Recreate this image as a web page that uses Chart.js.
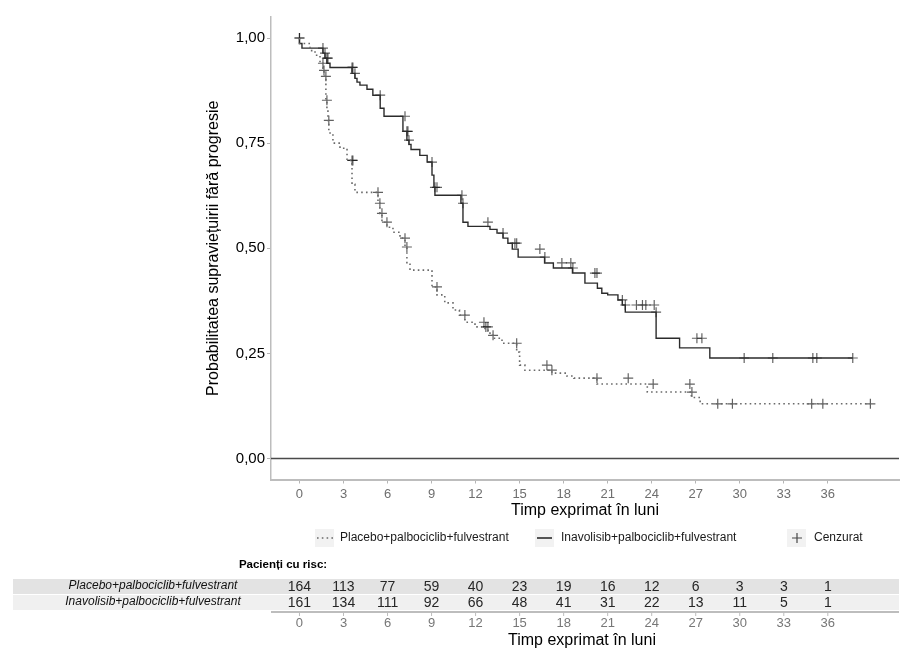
<!DOCTYPE html>
<html>
<head>
<meta charset="utf-8">
<script src="https://cdn.jsdelivr.net/npm/chart.js@4"></script>
<style>
  html, body { margin: 0; padding: 0; background: #ffffff; }
  canvas { display: block; }
</style>
</head>
<body>
<canvas id="km" width="922" height="669"></canvas>
<script>
// ---------------- DATA ----------------
// Inavolisib+palbociclib+fulvestrant : event times (months) and survival after each step
const inavoTime = [0, 0.17, 1.6, 1.74, 1.87, 2.08, 3.58, 3.78, 3.92, 4.12, 4.6, 5.0, 5.5, 5.76, 7.05, 7.32, 7.46, 7.6, 8.2, 8.7, 9.03, 9.16, 9.23, 11.0, 11.14, 11.48, 12.98, 13.46, 13.87, 14.2, 14.5, 14.9, 16.7, 17.3, 18.6, 19.45, 20.3, 20.6, 21.0, 21.7, 22.0, 22.2, 24.3, 25.9, 27.96, 30.3];
const inavoSurv = [1.0, 0.987, 0.976, 0.964, 0.952, 0.94, 0.93, 0.916, 0.904, 0.895, 0.888, 0.878, 0.864, 0.833, 0.814, 0.778, 0.757, 0.747, 0.735, 0.721, 0.705, 0.674, 0.645, 0.626, 0.607, 0.562, 0.552, 0.545, 0.536, 0.524, 0.512, 0.498, 0.479, 0.465, 0.453, 0.441, 0.417, 0.405, 0.393, 0.389, 0.377, 0.365, 0.348, 0.286, 0.263, 0.239];
const inavoCensor = [0, 1.6, 1.74, 1.87, 1.94, 3.58, 3.64, 3.78, 5.5, 7.19, 7.32, 7.39, 7.46, 9.03, 9.23, 9.37, 11.07, 11.14, 12.84, 13.87, 14.68, 14.8, 16.38, 16.72, 17.88, 18.49, 18.63, 20.13, 20.27, 22.0, 22.2, 22.96, 23.37, 23.6, 24.17, 24.3, 27.08, 27.42, 30.3, 32.25, 34.98, 35.25, 37.7];

// Placebo+palbociclib+fulvestrant
const placeboTime = [0, 0.72, 1.06, 1.4, 1.6, 1.67, 1.8, 1.87, 1.94, 2.0, 2.28, 2.76, 3.24, 3.58, 3.78, 5.35, 5.48, 5.62, 5.96, 6.37, 6.85, 7.19, 7.32, 7.53, 9.03, 9.37, 9.9, 10.46, 10.9, 11.27, 11.96, 12.64, 12.98, 13.19, 13.8, 14.8, 15.0, 15.36, 17.2, 18.22, 18.7, 20.27, 23.7, 26.7, 27.3, 27.6];
const placeboSurv = [1.0, 0.987, 0.97, 0.959, 0.94, 0.923, 0.909, 0.852, 0.835, 0.804, 0.774, 0.75, 0.738, 0.709, 0.652, 0.633, 0.607, 0.583, 0.562, 0.55, 0.538, 0.524, 0.503, 0.462, 0.448, 0.408, 0.389, 0.37, 0.353, 0.341, 0.324, 0.313, 0.305, 0.293, 0.286, 0.274, 0.253, 0.222, 0.21, 0.203, 0.196, 0.191, 0.177, 0.158, 0.145, 0.13];
const placeboCensor = [0, 1.6, 1.67, 1.8, 1.87, 2.0, 3.58, 3.64, 5.35, 5.48, 5.62, 5.96, 7.19, 7.32, 9.37, 11.27, 12.57, 12.7, 12.84, 13.19, 14.8, 16.86, 17.2, 20.27, 22.4, 24.1, 26.6, 26.74, 28.5, 29.5, 34.9, 35.66, 38.9];

// Number at risk
const riskTimes = [0, 3, 6, 9, 12, 15, 18, 21, 24, 27, 30, 33, 36];
const riskPlacebo = [164, 113, 77, 59, 40, 23, 19, 16, 12, 6, 3, 3, 1];
const riskInavo = [161, 134, 111, 92, 66, 48, 41, 31, 22, 13, 11, 5, 1];

// Tick values / labels
const xTickValues = riskTimes;
const yTickValues = [0, 0.25, 0.5, 0.75, 1.0];

const seriesNames = ['Placebo+palbociclib+fulvestrant', 'Inavolisib+palbociclib+fulvestrant'];
const censorLabel = 'Cenzurat';
const riskTitle = 'Pacienți cu risc:';
const xTitle = 'Timp exprimat în luni';
const yTitle = 'Probabilitatea supraviețuirii fără progresie';

// ---------------- helpers ----------------
function stepPoints(times, surv, endTime) {
  const pts = times.map((t, i) => ({ x: t, y: surv[i] }));
  pts.push({ x: endTime, y: surv[surv.length - 1] });
  return pts;
}
function survAt(times, surv, t) {
  let s = surv[0];
  for (let i = 0; i < times.length; i++) if (times[i] <= t + 1e-9) s = surv[i];
  return s;
}
function censorPoints(times, surv, cens) {
  return cens.map(t => ({ x: t, y: survAt(times, surv, t) }));
}

const FONT = '"Liberation Sans", Arial, Helvetica, sans-serif';
Chart.defaults.font.family = FONT;

const tablePlugin = {
  id: 'kmExtras',
  beforeDraw(chart) {
    const c = chart.ctx;
    c.save();
    c.fillStyle = '#ffffff';
    c.fillRect(0, 0, chart.width, chart.height);
    c.restore();
  },
  afterDraw(chart) {
    const c = chart.ctx;
    const xs = chart.scales.x, ys = chart.scales.y;
    const area = chart.chartArea;
    c.save();

    // horizontal reference line at 0
    const y0 = ys.getPixelForValue(0);
    c.strokeStyle = '#4a4a4a';
    c.lineWidth = 1.4;
    c.beginPath(); c.moveTo(area.left, y0); c.lineTo(area.right, y0); c.stroke();

    // ---------- legend ----------
    const ly = 538;
    c.font = '12px ' + FONT;
    c.textBaseline = 'middle';
    c.textAlign = 'left';
    // key 1
    c.fillStyle = '#f2f2f2'; c.fillRect(315, 529, 19, 18);
    c.strokeStyle = '#6a6a6a'; c.lineWidth = 1.6; c.setLineDash([1.6, 3.2]);
    c.beginPath(); c.moveTo(317, ly); c.lineTo(333, ly); c.stroke();
    c.setLineDash([]);
    c.fillStyle = '#1a1a1a'; c.fillText(seriesNames[0], 340, ly);
    // key 2
    c.fillStyle = '#f2f2f2'; c.fillRect(535, 529, 19, 18);
    c.strokeStyle = '#2b2b2b'; c.lineWidth = 1.6;
    c.beginPath(); c.moveTo(537, ly); c.lineTo(552, ly); c.stroke();
    c.fillStyle = '#1a1a1a'; c.fillText(seriesNames[1], 561, ly);
    // key 3
    c.fillStyle = '#f2f2f2'; c.fillRect(787, 529, 19, 18);
    c.strokeStyle = 'rgba(0,0,0,0.7)'; c.lineWidth = 1.2;
    c.beginPath(); c.moveTo(792, ly); c.lineTo(802, ly); c.moveTo(797, ly - 5); c.lineTo(797, ly + 5); c.stroke();
    c.fillStyle = '#1a1a1a'; c.fillText(censorLabel, 814, ly);

    // ---------- risk table ----------
    c.font = 'bold 11.5px ' + FONT;
    c.textAlign = 'center';
    c.fillStyle = '#000';
    c.fillText(riskTitle, 283, 565);

    const r1y = 587, r2y = 603;
    c.fillStyle = '#e3e3e3'; c.fillRect(13, 579, area.right - 13, 15);
    c.fillStyle = '#f0f0f0'; c.fillRect(13, 595, area.right - 13, 15);

    c.font = 'italic 12px ' + FONT;
    c.fillStyle = '#111';
    c.fillText(seriesNames[0], 153, r1y - 1);
    c.fillText(seriesNames[1], 153, r2y - 1);

    c.font = '14px ' + FONT;
    c.fillStyle = '#262626';
    riskTimes.forEach((t, i) => {
      const px = xs.getPixelForValue(t);
      c.fillText(String(riskPlacebo[i]), px, r1y);
      c.fillText(String(riskInavo[i]), px, r2y);
    });

    // table axis
    const ay = 612;
    c.strokeStyle = '#bdbdbd'; c.lineWidth = 2;
    c.beginPath(); c.moveTo(area.left, ay); c.lineTo(area.right, ay); c.stroke();
    c.lineWidth = 1;
    c.font = '13px ' + FONT;
    c.fillStyle = '#777';
    riskTimes.forEach(t => {
      const px = xs.getPixelForValue(t);
      c.beginPath(); c.moveTo(px, ay); c.lineTo(px, ay + 4); c.stroke();
      c.fillText(String(t), px, 623);
    });
    c.font = '16px ' + FONT;
    c.fillStyle = '#000';
    c.fillText(xTitle, (xs.left + xs.right) / 2 - 3, 641);

    c.restore();
  }
};

const ctx = document.getElementById('km').getContext('2d');
new Chart(ctx, {
  type: 'line',
  data: {
    datasets: [
      {
        label: seriesNames[0],
        data: stepPoints(placeboTime, placeboSurv, placeboCensor[placeboCensor.length - 1]),
        stepped: 'after',
        borderColor: '#6a6a6a',
        borderWidth: 1.6,
        borderDash: [1.6, 3.2],
        pointRadius: 0,
        fill: false
      },
      {
        label: seriesNames[1],
        data: stepPoints(inavoTime, inavoSurv, inavoCensor[inavoCensor.length - 1]),
        stepped: 'after',
        borderColor: '#2b2b2b',
        borderWidth: 1.4,
        pointRadius: 0,
        fill: false
      },
      {
        label: censorLabel + ' P',
        data: censorPoints(placeboTime, placeboSurv, placeboCensor),
        showLine: false,
        pointStyle: 'cross',
        pointRadius: 5,
        pointBorderColor: 'rgba(0,0,0,0.62)',
        pointBorderWidth: 1.2
      },
      {
        label: censorLabel + ' I',
        data: censorPoints(inavoTime, inavoSurv, inavoCensor),
        showLine: false,
        pointStyle: 'cross',
        pointRadius: 5,
        pointBorderColor: 'rgba(0,0,0,0.62)',
        pointBorderWidth: 1.2
      }
    ]
  },
  options: {
    responsive: false,
    animation: false,
    devicePixelRatio: 1,
    layout: { padding: { left: 195, top: 17, right: 23, bottom: 139 } },
    plugins: { legend: { display: false }, tooltip: { enabled: false } },
    scales: {
      x: {
        type: 'linear',
        min: -1.94,
        max: 40.85,
        afterBuildTicks: s => { s.ticks = xTickValues.map(v => ({ value: v })); },
        afterFit: s => { s.height = 50.5; },
        grid: { display: true, drawOnChartArea: false, drawTicks: true, tickLength: 4, color: '#b5b5b5', lineWidth: 1 },
        border: { display: true, color: '#bdbdbd', width: 2 },
        ticks: { color: '#6e6e6e', font: { size: 13 }, padding: 3, maxRotation: 0, autoSkip: false,
          callback: v => String(v) },
        title: { display: true, text: xTitle, color: '#000', font: { size: 16 }, padding: { top: 0, bottom: 9.4 } }
      },
      y: {
        type: 'linear',
        min: -0.05,
        max: 1.05,
        afterBuildTicks: s => { s.ticks = yTickValues.map(v => ({ value: v })); },
        afterFit: s => { s.width = 76; },
        grid: { display: true, drawOnChartArea: false, drawTicks: true, tickLength: 4, color: '#b5b5b5', lineWidth: 1 },
        border: { display: true, color: '#bdbdbd', width: 1.5 },
        ticks: { color: '#000', font: { size: 15 }, padding: 2,
          callback: v => Number(v).toFixed(2).replace('.', ',') },
        title: { display: true, text: yTitle, color: '#000', font: { size: 16 }, padding: { top: 8.9, bottom: 0 } }
      }
    }
  },
  plugins: [tablePlugin]
});
</script>
</body>
</html>
